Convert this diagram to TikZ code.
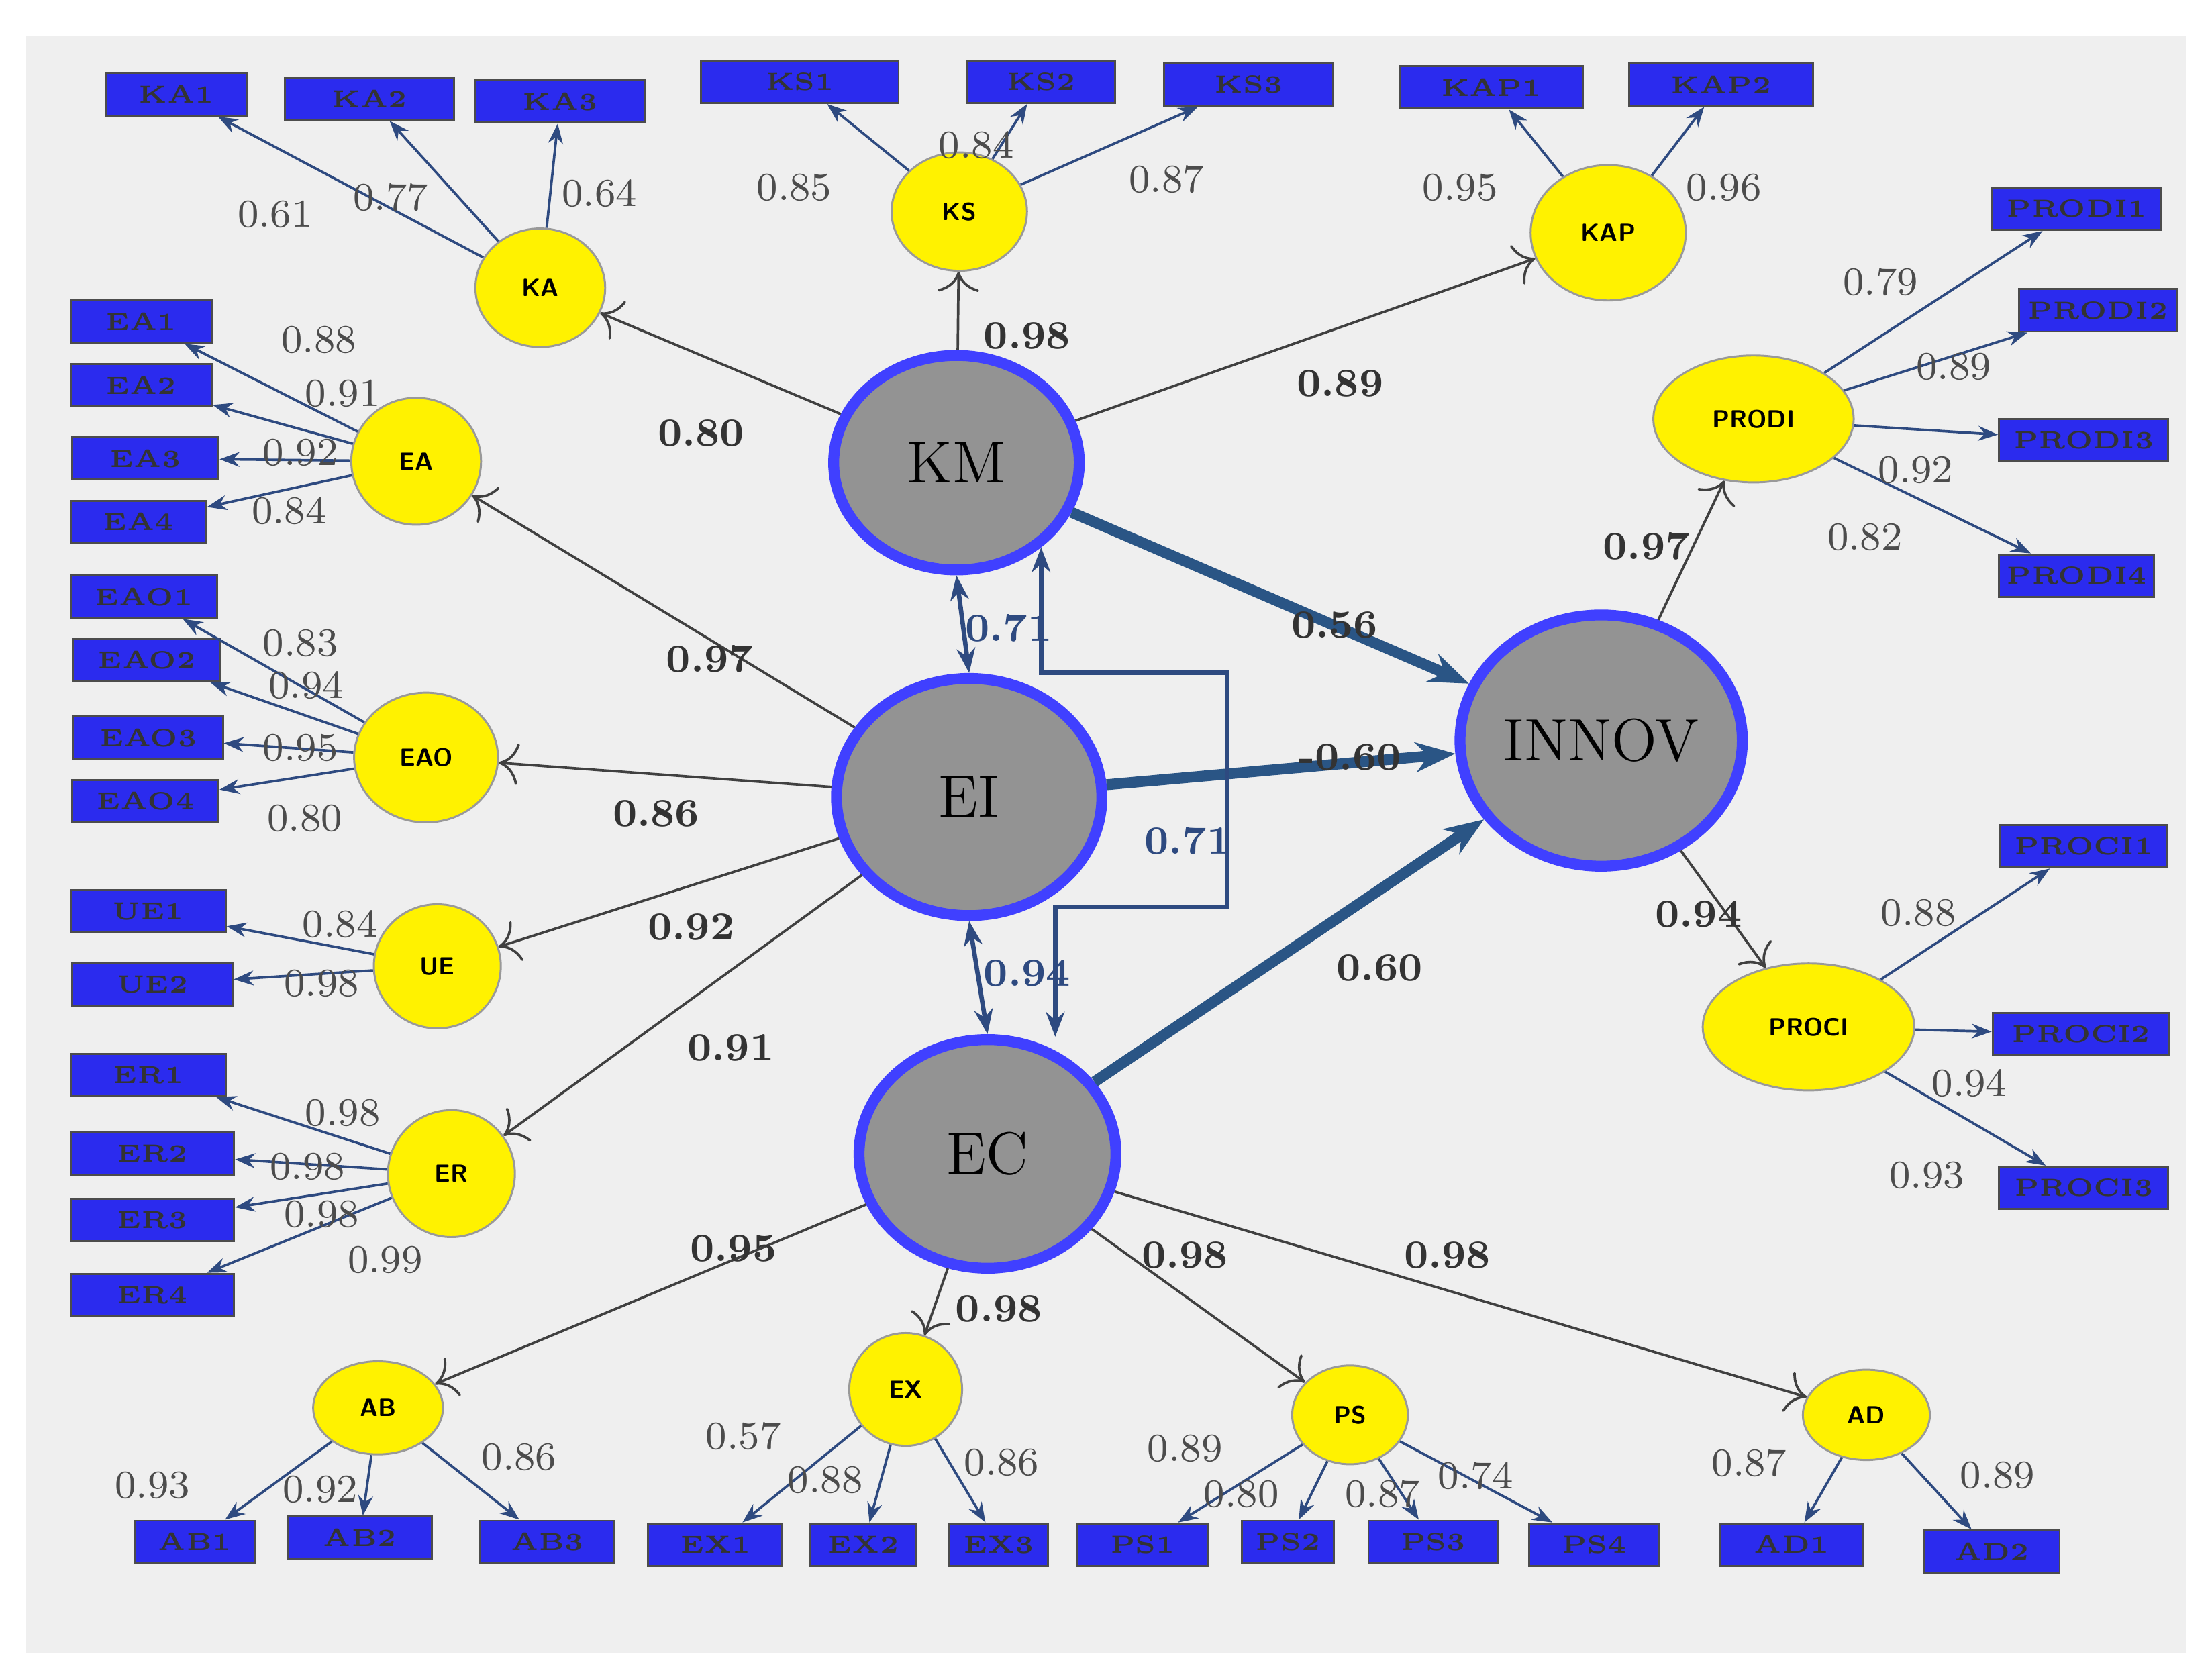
\documentclass[tikz,border=0pt]{standalone}
\usetikzlibrary{arrows.meta,shapes.geometric}
\definecolor{bx}{HTML}{2B2BEE}
\definecolor{ln}{HTML}{2E4A80}
\definecolor{thk}{HTML}{2A5585}
\definecolor{bg}{HTML}{EFEFEF}
\begin{document}
\begin{tikzpicture}[x=0.01cm,y=-0.01cm,
 box/.style={draw=black!70,fill=bx,minimum height=0.3cm,inner sep=0pt,font=\tiny\bfseries,text=black!80},
 lv/.style={draw=black!40,fill=yellow,ellipse,font=\sffamily\tiny\bfseries,inner sep=0pt},
 big/.style={draw=blue!75,line width=2.2pt,fill=gray!85,ellipse,font=\large,inner sep=0pt},
 ind/.style={ln,-{Stealth[length=4pt]},line width=0.5pt},
 str/.style={black!75,-{To[length=4pt]},line width=0.5pt},
 th/.style={thk,-{Stealth[length=8pt]},line width=2.2pt},
 lb/.style={font=\footnotesize,text=black!70},
 sl/.style={font=\footnotesize\bfseries,text=black!80}]
\useasboundingbox (0,0) rectangle (1568,1190);
\fill[bg] (18,25) rectangle (1550,1172);
% boxes
\foreach \n/\x/\y/\w in {KA1/125/67/100,KA2/262/70/120,KA3/397/72/120,KS1/567/58/140,KS2/738/58/105,KS3/885/60/120,KAP1/1057/62/130,KAP2/1220/60/130,
PRODI1/1472/148/120,PRODI2/1487/220/112,PRODI3/1477/312/120,PRODI4/1472/408/110,PROCI1/1477/600/118,PROCI2/1475/733/125,PROCI3/1477/842/120,
EA1/100/228/100,EA2/100/273/100,EA3/103/325/104,EA4/98/370/96,EAO1/102/423/104,EAO2/104/468/104,EAO3/105/523/106,EAO4/103/568/104,UE1/105/646/110,UE2/108/698/114,ER1/105/762/110,ER2/108/818/116,ER3/108/865/116,ER4/108/918/116,
AB1/138/1093/85,AB2/255/1090/102,AB3/388/1093/95,EX1/507/1095/95,EX2/612/1095/75,EX3/708/1095/70,PS1/810/1095/92,PS2/913/1093/65,PS3/1016/1093/92,PS4/1130/1095/92,AD1/1270/1095/102,AD2/1412/1100/96}
 \node[box,minimum width=\w*0.01cm] (\n) at (\x,\y) {\n};
% latent
\foreach \n/\x/\y/\a/\b in {KA/383/204/92/84,KS/680/150/96/84,KAP/1140/165/110/96,EA/295/327/92/90,EAO/302/537/102/92,UE/310/685/90/88,ER/320/832/90/90,AB/268/998/92/66,EX/642/985/80/80,PS/957/1003/82/70,AD/1323/1003/90/64,PRODI/1243/297/142/90,PROCI/1282/728/150/90}
 \node[lv,minimum width=\a*0.01cm,minimum height=\b*0.01cm] (\n) at (\x,\y) {\n};
\node[big,minimum width=1.74cm,minimum height=1.52cm] (KM) at (678,328) {KM};
\node[big,minimum width=1.88cm,minimum height=1.68cm] (EI) at (687,565) {EI};
\node[big,minimum width=1.82cm,minimum height=1.62cm] (EC) at (700,818) {EC};
\node[big,minimum width=2.0cm,minimum height=1.78cm] (INNOV) at (1135,525) {INNOV};
% indicator arrows
\foreach \a/\b in {KA/KA1,KA/KA2,KA/KA3,KS/KS1,KS/KS2,KS/KS3,KAP/KAP1,KAP/KAP2,PRODI/PRODI1,PRODI/PRODI2,PRODI/PRODI3,PRODI/PRODI4,PROCI/PROCI1,PROCI/PROCI2,PROCI/PROCI3,
EA/EA1,EA/EA2,EA/EA3,EA/EA4,EAO/EAO1,EAO/EAO2,EAO/EAO3,EAO/EAO4,UE/UE1,UE/UE2,ER/ER1,ER/ER2,ER/ER3,ER/ER4,AB/AB1,AB/AB2,AB/AB3,EX/EX1,EX/EX2,EX/EX3,PS/PS1,PS/PS2,PS/PS3,PS/PS4,AD/AD1,AD/AD2}
 \draw[ind] (\a) -- (\b);
% structural
\foreach \a/\b in {KM/KA,KM/KS,KM/KAP,EI/EA,EI/EAO,EI/UE,EI/ER,EC/AB,EC/EX,EC/PS,EC/AD,INNOV/PRODI,INNOV/PROCI}
 \draw[str] (\a) -- (\b);
\draw[th] (KM) -- (INNOV);
\draw[th] (EI) -- (INNOV);
\draw[th] (EC) -- (INNOV);
\draw[ln,{Stealth[length=5pt]}-{Stealth[length=5pt]},line width=0.9pt] (KM.south) -- (EI.north);
\draw[ln,{Stealth[length=5pt]}-{Stealth[length=5pt]},line width=0.9pt] (EI.south) -- (EC.north);
\coordinate (c1) at (748,643);
\draw[ln,{Stealth[length=5pt]}-{Stealth[length=5pt]},line width=0.9pt] (748,735) -- (c1) -- (870,643) -- (870,477) -- (738,477) -- (738,388);
% structural labels
\foreach \t/\x/\y in {0.80/497/307,0.98/728/238,0.89/950/272,0.97/503/467,0.86/465/577,0.92/490/657,0.91/518/743,0.95/520/885,0.98/708/928,0.98/840/890,0.98/1026/890,0.97/1167/387,0.94/1204/648,0.56/946/443,-0.60/957/537,0.60/978/686}
 \node[sl] at (\x,\y) {\t};
\node[sl,text=ln] at (715,445) {0.71};
\node[sl,text=ln] at (728,690) {0.94};
\node[sl,text=ln] at (842,596) {0.71};
% loadings
\foreach \t/\x/\y in {0.61/195/152,0.77/277/140,0.64/425/137,0.85/563/133,0.84/692/103,0.87/827/127,0.95/1035/133,0.96/1222/133,
0.79/1333/200,0.89/1385/260,0.92/1358/333,0.82/1322/381,0.88/1360/647,0.94/1396/768,0.93/1366/833,
0.88/226/241,0.91/243/279,0.92/213/321,0.84/205/362,0.83/213/456,0.94/217/486,0.95/213/530,0.80/216/580,0.84/241/655,0.98/228/697,0.98/243/789,0.98/218/827,0.98/228/861,0.99/273/893,
0.93/108/1053,0.92/227/1056,0.86/368/1033,0.57/527/1018,0.88/585/1049,0.86/710/1037,0.89/840/1027,0.80/880/1059,0.87/980/1059,0.74/1046/1046,0.87/1240/1037,0.89/1416/1046}
 \node[lb] at (\x,\y) {\t};
\end{tikzpicture}
\end{document}
